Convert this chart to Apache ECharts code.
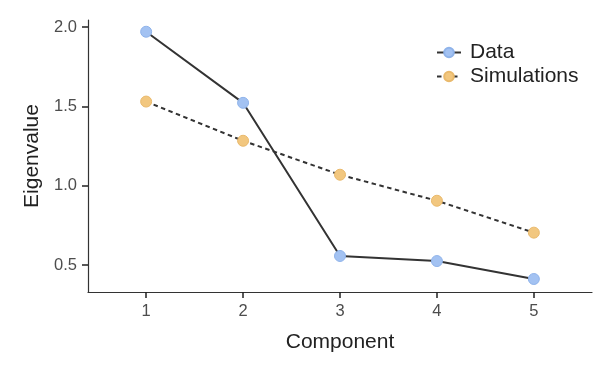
<!DOCTYPE html>
<html>
<head>
<meta charset="utf-8">
<script src="https://cdn.jsdelivr.net/npm/echarts@6/dist/echarts.min.js"></script>
<style>html,body{margin:0;padding:0;background:#fff;}#c{width:612px;height:372px;}</style>
</head>
<body>
<div id="c"></div>
<script>
var components = [1, 2, 3, 4, 5];
var dataValues = [1.97, 1.522, 0.557, 0.525, 0.412];
var simValues = [1.53, 1.283, 1.069, 0.905, 0.704];
var yTicks = [0.5, 1.0, 1.5, 2.0];

function pairs(xs, ys) { return xs.map(function (x, i) { return [x, ys[i]]; }); }

var chart = echarts.init(document.getElementById('c'));
var font = 'Liberation Sans, Arial, sans-serif';
chart.setOption({
  animation: false,
  grid: { left: 88, right: 20, top: 20, bottom: 80 },
  legend: {
    left: 431, top: 37, orient: 'vertical', itemGap: 3, itemWidth: 24, itemHeight: 12,
    textStyle: { fontSize: 21, color: '#222', fontFamily: font, padding: [0, 0, 0, 4] },
    data: ['Data', 'Simulations']
  },
  xAxis: {
    type: 'value', min: 0.4, max: 5.6,
    name: 'Component', nameLocation: 'middle', nameGap: 40,
    nameTextStyle: { fontSize: 21, color: '#222', fontFamily: font },
    axisLine: { lineStyle: { color: '#333', width: 1.2 } },
    axisTick: { show: true, length: 6, customValues: components, lineStyle: { color: '#222', width: 1.5 } },
    axisLabel: { customValues: components, fontSize: 16.5, color: '#4d4d4d', margin: 11, fontFamily: font },
    splitLine: { show: false }
  },
  yAxis: {
    type: 'value', min: 0.33, max: 2.044,
    name: 'Eigenvalue', nameLocation: 'middle', nameGap: 45,
    nameTextStyle: { fontSize: 21, color: '#222', fontFamily: font },
    axisLine: { show: true, lineStyle: { color: '#333', width: 1.2 } },
    axisTick: { show: true, length: 6, customValues: yTicks, lineStyle: { color: '#222', width: 1.5 } },
    axisLabel: { customValues: yTicks, fontSize: 16.5, color: '#4d4d4d', margin: 11, fontFamily: font,
      formatter: function (v) { return v.toFixed(1); } },
    splitLine: { show: false }
  },
  series: [
    {
      name: 'Data', type: 'line', data: pairs(components, dataValues),
      symbol: 'circle', symbolSize: 11,
      lineStyle: { color: '#333', width: 2 },
      itemStyle: { color: '#a3c2f2', borderColor: '#8fb3ea', borderWidth: 1 }
    },
    {
      name: 'Simulations', type: 'line', data: pairs(components, simValues),
      symbol: 'circle', symbolSize: 11,
      lineStyle: { color: '#333', width: 2, type: [4.5, 3.5] },
      itemStyle: { color: '#f2c77f', borderColor: '#e9b96c', borderWidth: 1 }
    }
  ]
});
</script>
</body>
</html>
